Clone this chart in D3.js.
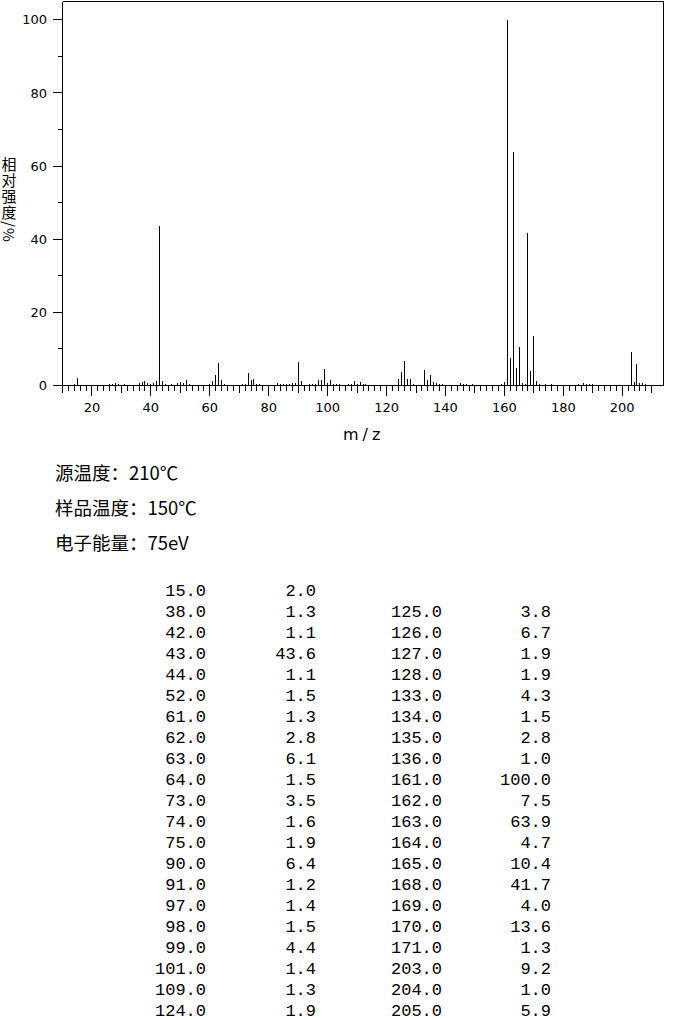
<!DOCTYPE html>
<html><head><meta charset="utf-8">
<script src="https://cdn.jsdelivr.net/npm/d3@7/dist/d3.min.js"></script>
<style>body{margin:0;background:#fff}svg{display:block}</style>
</head><body><svg id="c" width="680" height="1020"></svg>
<script>
// ---- data ----
const mzValues = [14,15,26,27,28,29,31,36,37,38,39,40,41,42,43,44,45,47,49,50,51,52,53,
  60,61,62,63,64,65,71,72,73,74,75,76,77,83,84,85,86,87,88,89,90,91,
  94,95,96,97,98,99,100,101,102,103,104,107,108,109,110,111,112,113,
  124,125,126,127,128,129,133,134,135,136,137,138,139,145,146,147,149,
  159,160,161,162,163,164,165,166,167,168,169,170,171,172,174,176,178,
  185,187,188,189,190,203,204,205,206,207,208];
const intensities = [0.4,2.0,0.4,0.5,0.7,0.5,0.3,0.6,0.9,1.3,0.8,0.4,0.6,1.1,43.6,1.1,0.3,0.3,0.6,0.9,0.6,1.5,0.4,
  0.3,1.3,2.8,6.1,1.5,0.3,0.3,0.5,3.5,1.6,1.9,0.3,0.3,0.8,0.3,0.5,0.3,0.5,0.8,0.8,6.4,1.2,
  0.3,0.3,0.3,1.4,1.5,4.4,0.7,1.4,0.3,0.3,0.3,0.4,0.5,1.3,0.4,0.9,0.4,0.4,
  1.9,3.8,6.7,1.9,1.9,0.4,4.3,1.5,2.8,1.0,0.6,0.4,0.4,0.6,0.4,0.4,0.4,
  0.4,0.9,100.0,7.5,63.9,4.7,10.4,0.7,0.5,41.7,4.0,13.6,1.3,0.4,0.5,0.4,0.2,
  0.4,0.7,0.5,0.5,0.5,9.2,1.0,5.9,0.7,0.8,0.4];
const xTickValues = d3.range(10, 212, 2);
const xTickLabels = [20,40,60,80,100,120,140,160,180,200];
const yTickValues = d3.range(0, 101, 10);
const yTickLabels = [0,20,40,60,80,100];
const yTitle = "相对强度/%";
const xTitle = "m/z";
const infoLines = ["源温度：210℃","样品温度：150℃","电子能量：75eV"];
const tableThreshold = 1.0;

// ---- drawing ----
const svg = d3.select("#c");
const x = d3.scaleLinear().domain([10, 214]).range([62.5, 663.5]);
const y = d3.scaleLinear().domain([0, 105]).range([385.5, 1.5]);
const px = v => Math.round(x(v) - 0.5) + 0.5;
const py = v => Math.round(y(v) - 0.5) + 0.5;

const g = svg.append("g").attr("shape-rendering", "crispEdges").attr("stroke", "#000").attr("stroke-width", 1);

// frame
g.append("line").attr("x1", x(10)).attr("x2", x(214)).attr("y1", y(105)).attr("y2", y(105));
g.append("line").attr("x1", x(214)).attr("x2", x(214)).attr("y1", y(105)).attr("y2", y(0));
g.append("line").attr("x1", x(10)).attr("x2", x(10)).attr("y1", y(105)).attr("y2", y(0));
g.append("line").attr("x1", x(10)).attr("x2", x(214)).attr("y1", y(0)).attr("y2", y(0));

// x ticks
g.selectAll(".xt").data(xTickValues).join("line")
  .attr("x1", d => px(d)).attr("x2", d => px(d))
  .attr("y1", y(0)).attr("y2", d => y(0) + (d % 20 === 0 ? 10 : d % 10 === 0 ? 7 : 5));
// y ticks
g.selectAll(".yt").data(yTickValues).join("line")
  .attr("y1", d => py(d)).attr("y2", d => py(d))
  .attr("x1", x(10)).attr("x2", d => x(10) - (d % 20 === 0 ? 10 : 5));

// bars
g.selectAll(".bar").data(mzValues.map((m, i) => [m, intensities[i]])).join("line")
  .attr("x1", d => px(d[0])).attr("x2", d => px(d[0]))
  .attr("y1", y(0)).attr("y2", d => y(d[1]));

// tick labels
const lab = "DejaVu Sans, sans-serif";
svg.selectAll(".xl").data(xTickLabels).join("text")
  .attr("x", d => x(d)).attr("y", 412).attr("text-anchor", "middle")
  .attr("font-family", lab).attr("font-size", 13).text(d => d);
svg.selectAll(".yl").data(yTickLabels).join("text")
  .attr("x", 47).attr("y", d => y(d)).attr("dy", "0.36em").attr("text-anchor", "end")
  .attr("font-family", lab).attr("font-size", 13).text(d => d);

// axis titles
svg.append("text").attr("x", 343).attr("y", 440).attr("font-family", lab)
  .attr("font-size", 16).attr("letter-spacing", 4).text(xTitle);
const cjk = "'Noto Sans CJK SC', sans-serif";
svg.append("text").attr("x", 9).attr("y", 157)
  .style("writing-mode", "vertical-rl").style("text-orientation", "mixed")
  .attr("font-family", cjk).attr("font-size", 15).attr("letter-spacing", 1)
  .text(yTitle);

// info lines
svg.selectAll(".info").data(infoLines).join("text")
  .attr("x", 55).attr("y", (d, i) => 480 + i * 35)
  .attr("font-family", cjk).attr("font-size", 18.5).text(d => d);

// peak table
const rows = mzValues.map((m, i) => [m, intensities[i]]).filter(d => d[1] >= tableThreshold);
const leftRows = rows.slice(0, 21), rightRows = rows.slice(21);
const f = d3.format(".1f");
const mono = "'Liberation Mono', monospace";
function col(data, xpos, idx, startRow) {
  svg.append("g").selectAll("text").data(data).join("text")
    .attr("x", xpos).attr("y", (d, i) => 596 + (i + startRow) * 21)
    .attr("text-anchor", "end").attr("font-family", mono).attr("font-size", 17)
    .text(d => f(d[idx]));
}
col(leftRows, 206, 0, 0); col(leftRows, 316, 1, 0);
col(rightRows, 442, 0, 1); col(rightRows, 551, 1, 1);
</script></body></html>
